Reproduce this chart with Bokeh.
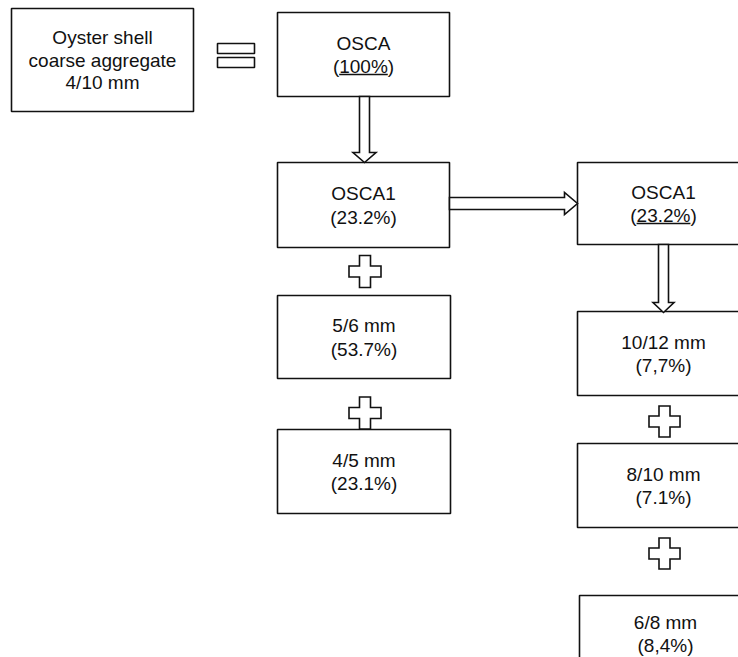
from bokeh.plotting import figure
from bokeh.models import Range1d
from bokeh.core.properties import value
from bokeh.embed import file_html
from bokeh.resources import INLINE

# ---------------- data (texts of the flow chart) ----------------
source_lines = ["Oyster shell", "coarse aggregate", "4/10 mm"]
box_names = ["OSCA", "OSCA1", "5/6 mm", "4/5 mm", "OSCA1", "10/12 mm", "8/10 mm", "6/8 mm"]
box_shares = ["100%", "23.2%", "53.7%", "23.1%", "23.2%", "7,7%", "7.1%", "8,4%"]
box_underlined = [True, False, False, False, True, False, False, False]

# ---------------- layout (pixel coordinates of the picture) ----------------
src_box = (11, 193, 8, 111)  # left, right, top, bottom
box_geo = [
    (277, 449, 12, 96),
    (277, 449, 162, 247),
    (277, 450, 295, 378),
    (277, 450, 429, 513),
    (577, 749, 162, 244),
    (577, 749, 311, 395),
    (577, 749, 443, 527),
    (579, 749, 595, 700),
]
FONT = value("Liberation Sans")
FSIZE = "19px"
LW = 1.6
INK = "#111111"

p = figure(width=738, height=657, output_backend="svg", toolbar_location=None,
           x_range=Range1d(0, 738), y_range=Range1d(657, 0),
           min_border=0, min_border_left=0, min_border_right=0,
           min_border_top=0, min_border_bottom=0)
p.axis.visible = False
p.grid.visible = False
p.outline_line_color = None
p.background_fill_color = "white"
p.border_fill_color = "white"

# boxes
all_boxes = [src_box] + box_geo
p.quad(left=[b[0] for b in all_boxes], right=[b[1] for b in all_boxes],
       top=[b[2] for b in all_boxes], bottom=[b[3] for b in all_boxes],
       fill_color="white", line_color=INK, line_width=LW)

# source box text
cx = (src_box[0] + src_box[1]) / 2
cy = (src_box[2] + src_box[3]) / 2
p.text(x=[cx] * 3, y=[cy - 22.5, cy, cy + 22.5], text=source_lines,
       text_align="center", text_baseline="middle", text_font=FONT,
       text_font_size=FSIZE, text_color=INK)

# Arial advance widths (em) for underline extents
W = {c: 0.556 for c in "0123456789"}
W.update({"%": 0.889, ".": 0.278, ",": 0.278, "(": 0.333, ")": 0.333})
fs = 19.0

xs1, ys1, xs2, ys2, t1, t2 = [], [], [], [], [], []
ul_x0, ul_x1, ul_y = [], [], []
for (l, r, t, b), name, share, ul in zip(box_geo, box_names, box_shares, box_underlined):
    bx = (l + r) / 2 if r < 740 else l + 86
    by = (t + b) / 2 if b < 660 else t + 38
    xs1.append(bx); ys1.append(by - 11.5); t1.append(name)
    xs2.append(bx); ys2.append(by + 12); t2.append("(" + share + ")")
    if ul:
        wfull = sum(W[c] for c in "(" + share + ")") * fs
        wp = W["("] * fs
        ul_x0.append(bx - wfull / 2 + wp)
        ul_x1.append(bx + wfull / 2 - wp)
        ul_y.append(by + 12 + 8)

p.text(x=xs1, y=ys1, text=t1, text_align="center", text_baseline="middle",
       text_font=FONT, text_font_size=FSIZE, text_color=INK)
p.text(x=xs2, y=ys2, text=t2, text_align="center", text_baseline="middle",
       text_font=FONT, text_font_size=FSIZE, text_color=INK)
p.segment(x0=ul_x0, y0=ul_y, x1=ul_x1, y1=ul_y, line_color=INK, line_width=1.4)

# equals sign
p.quad(left=[217, 217], right=[254, 254], top=[43, 57], bottom=[53, 67],
       fill_color="white", line_color=INK, line_width=LW)


def down_arrow(cxa, y0, yhead, ytip, half_shaft, half_head):
    xs = [cxa - half_shaft, cxa + half_shaft, cxa + half_shaft, cxa + half_head,
          cxa, cxa - half_head, cxa - half_shaft]
    ys = [y0, y0, yhead, yhead, ytip, yhead, yhead]
    return xs, ys


def right_arrow(cya, x0, xhead, xtip, half_shaft, half_head):
    ys = [cya - half_shaft, cya - half_shaft, cya - half_head, cya,
          cya + half_head, cya + half_shaft, cya + half_shaft]
    xs = [x0, xhead, xhead, xtip, xhead, xhead, x0]
    return xs, ys


arrows = [
    down_arrow(364, 96, 152, 162, 5, 11.5),
    right_arrow(203, 449, 564, 577, 6, 11),
    down_arrow(663, 244, 302, 312, 5, 10.5),
]
p.patches(xs=[a[0] for a in arrows], ys=[a[1] for a in arrows],
          fill_color="white", line_color=INK, line_width=LW, line_join="miter")


def plus(cxp, cyp, half, arm):
    xs = [cxp - arm, cxp + arm, cxp + arm, cxp + half, cxp + half, cxp + arm,
          cxp + arm, cxp - arm, cxp - arm, cxp - half, cxp - half, cxp - arm]
    ys = [cyp - half, cyp - half, cyp - arm, cyp - arm, cyp + arm, cyp + arm,
          cyp + half, cyp + half, cyp + arm, cyp + arm, cyp - arm, cyp - arm]
    return xs, ys


pluses = [plus(364.5, 271, 16, 5.5), plus(364.5, 412.5, 16, 5.5),
          plus(664, 421, 15.5, 5.5), plus(664, 553, 15.5, 5.5)]
p.patches(xs=[a[0] for a in pluses], ys=[a[1] for a in pluses],
          fill_color="white", line_color=INK, line_width=LW, line_join="miter")

open("out.html", "w").write(file_html(p, INLINE))
